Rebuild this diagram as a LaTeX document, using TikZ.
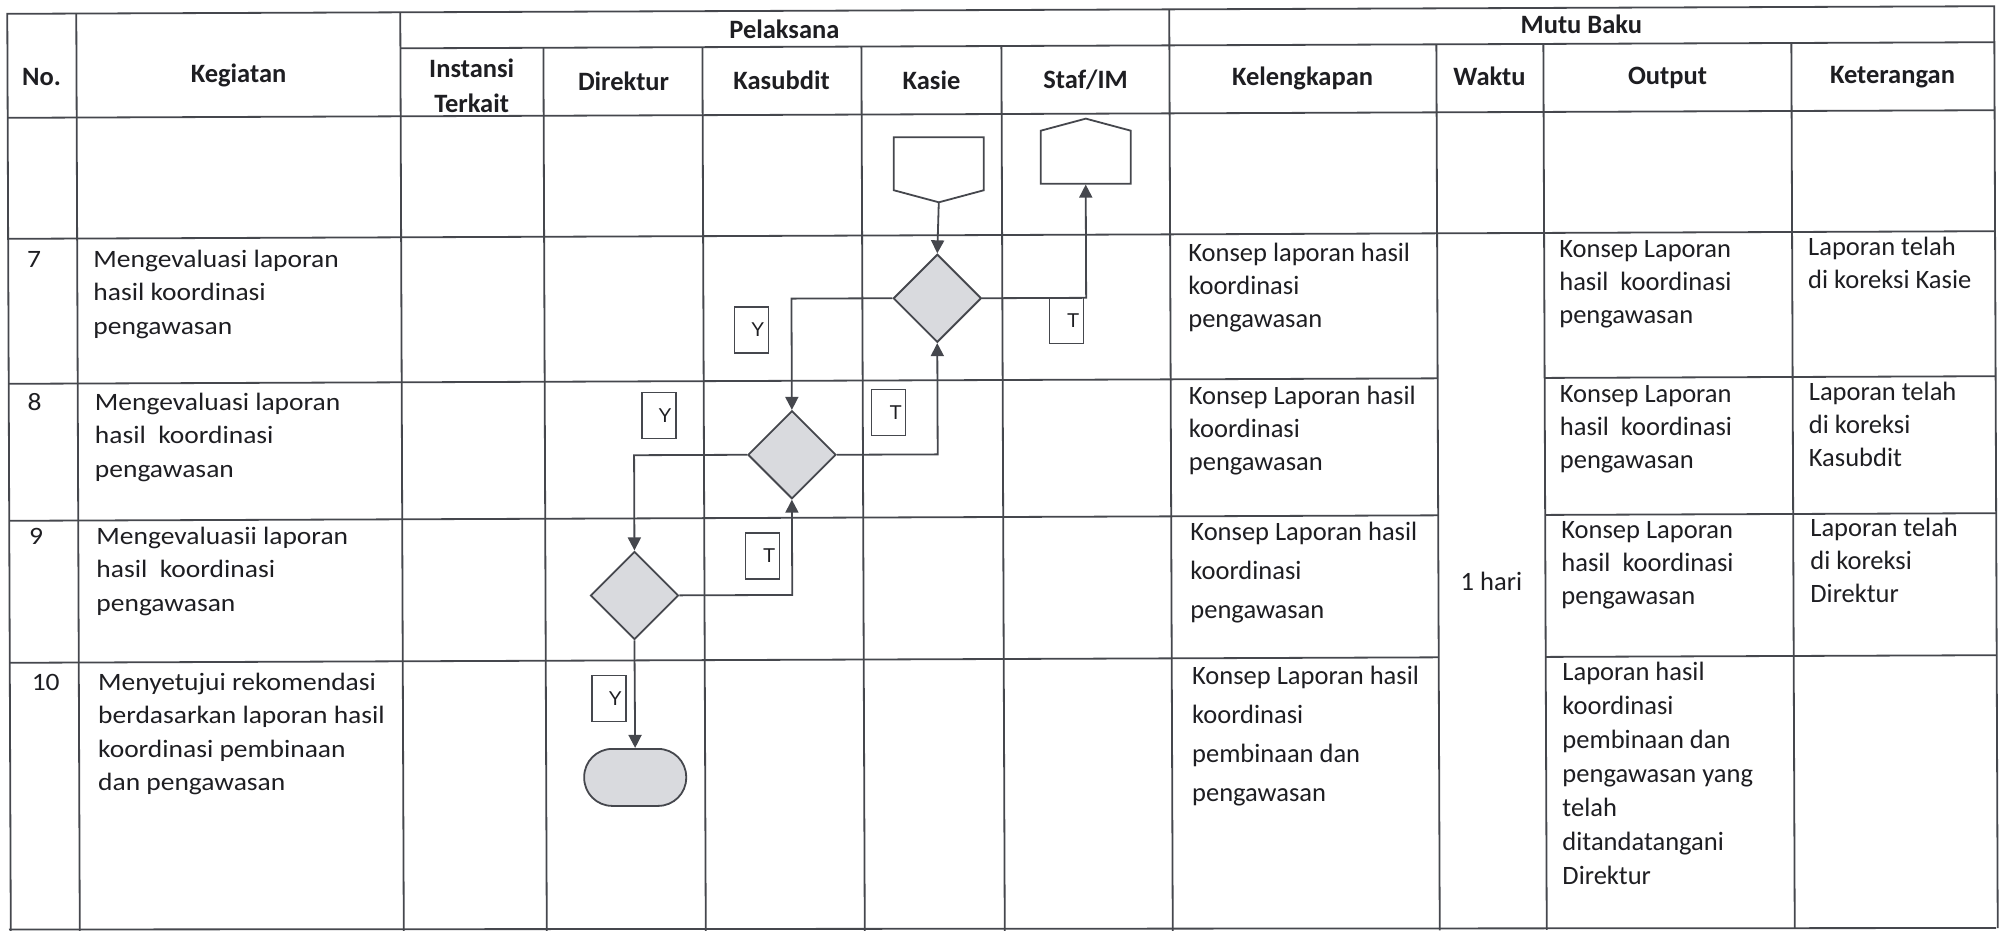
\documentclass[tikz,border=0pt]{standalone}
\usepackage{fontspec}
\setmainfont{Carlito}
\newfontfamily\widefont[FakeStretch=1.1]{Carlito}
\newfontfamily\flagfont{Liberation Sans}
\usetikzlibrary{shapes.geometric, shapes.symbols, arrows.meta, positioning}

\definecolor{gridline}{HTML}{45474D}
\definecolor{decfill}{HTML}{D9DADE}
\definecolor{ink}{HTML}{1E1E22}

\begin{document}
\begin{tikzpicture}[x=1pt, y=-1pt, line width=1.8pt, draw=gridline, text=ink,
        >={Triangle[length=13pt,width=13pt]}]
        \tikzset{
            head/.style={font=\bfseries\fontsize{26.5}{35}\selectfont, anchor=base, inner sep=0pt, align=center},
            act/.style={font=\widefont\fontsize{25}{33.5}\selectfont, anchor=base west, inner sep=0pt, align=left},
            cell/.style={font=\fontsize{26.5}{33}\selectfont, anchor=base west, inner sep=0pt, align=left},
            cellwide/.style={cell, font=\fontsize{26.5}{39}\selectfont},
            decision/.style={diamond, draw, fill=decfill, minimum width=88pt, minimum height=88pt, inner sep=0pt},
            offpage/.style={signal, draw, signal pointer angle=150, minimum width=90pt, minimum height=53pt, inner sep=0pt},
            terminal/.style={rectangle, rounded corners=28pt, draw, fill=decfill, minimum width=102pt, minimum height=57pt},
            flag/.style={draw, line width=1.4pt, font=\flagfont\fontsize{20}{20}\selectfont, text width=26pt,
                align=right, inner xsep=4pt, inner ysep=0pt, minimum height=46pt}
        }
        \useasboundingbox (0,0) rectangle (2008,931);

        % the scanned sheet sits slightly askew
        \begin{scope}[rotate around={0.22:(1002,470)}]
        % table frame
        \draw (9,932) -- (9,10) -- (1996,10) -- (1996,932);
        \draw (402,46) -- (1996,46);
        \draw (9,114) -- (1996,114);
        \draw (9,235) -- (1996,235);
        \draw (9,380) -- (1438,380) (1545,380) -- (1996,380);
        \draw (9,517) -- (1438,517) (1545,517) -- (1996,517);
        \draw (9,659) -- (1438,659) (1545,659) -- (1996,659);
        \draw (78,10) -- (78,932) (402,10) -- (402,932) (1171,10) -- (1171,932);
        \draw (545,46) -- (545,932) (704,46) -- (704,932) (863,46) -- (863,932) (1003,46) -- (1003,932);
        \draw (1438,46) -- (1438,932) (1545,46) -- (1545,932) (1793,46) -- (1793,932);

        % header (base = last line)
        \node[head] (h_no) at (43,82) {No.};
        \node[head] (h_keg) at (240,80) {Kegiatan};
        \node[head] (h_pel) at (786,38) {Pelaksana};
        \node[head] (h_mutu) at (1583,36) {Mutu Baku};
        \node[head] (h_ins) at (473,110) {Instansi\\Terkait};
        \node[head] (h_dir) at (625,89) {Direktur};
        \node[head] (h_ksb) at (783,89) {Kasubdit};
        \node[head] (h_ksi) at (933,89) {Kasie};
        \node[head] (h_staf) at (1087,89) {Staf/IM};
        \node[head] (h_kel) at (1304,87) {Kelengkapan};
        \node[head] (h_wkt) at (1491,87) {Waktu};
        \node[head] (h_out) at (1669,87) {Output};
        \node[head] (h_ket) at (1894,87) {Keterangan};

        % rows
        \node[act] (no_7) at (27,264) {7};
        \node[act] (no_8) at (27,407) {8};
        \node[act] (no_9) at (28,541) {9};
        \node[act] (no_10) at (30,687) {10};
        \node[act] (keg_7) at (93,331) {Mengevaluasi laporan\\hasil koordinasi\\pengawasan};
        \node[act] (keg_8) at (94,474) {Mengevaluasi laporan\\hasil\ \ koordinasi\\pengawasan};
        \node[act] (keg_9) at (95,608) {Mengevaluasii laporan\\hasil\ \ koordinasi\\pengawasan};
        \node[act] (keg_10) at (96,787.5) {Menyetujui rekomendasi\\berdasarkan laporan hasil\\koordinasi pembinaan\\dan pengawasan};

        \node[cell] (kel_7) at (1188,328) {Konsep laporan hasil\\koordinasi\\pengawasan};
        \node[cell] (kel_8) at (1188,471) {Konsep Laporan hasil\\koordinasi\\pengawasan};
        \node[cellwide] (kel_9) at (1189,619) {Konsep Laporan hasil\\koordinasi\\pengawasan};
        \node[cellwide] (kel_10) at (1190,802) {Konsep Laporan hasil\\koordinasi\\pembinaan dan\\pengawasan};
        \node[font=\fontsize{26.5}{33}\selectfont, inner sep=0pt] (wkt) at (1491,583) {1 hari};
        \node[cell] (out_7) at (1559,326) {Konsep Laporan\\hasil\ \ koordinasi\\pengawasan};
        \node[cell] (out_8) at (1559,471) {Konsep Laporan\\hasil\ \ koordinasi\\pengawasan};
        \node[cell] (out_9) at (1560,607) {Konsep Laporan\\hasil\ \ koordinasi\\pengawasan};
        \node[cell, font=\fontsize{26.5}{34}\selectfont] (out_10) at (1560,887) {Laporan hasil\\koordinasi\\pembinaan dan\\pengawasan yang\\telah\\ditandatangani\\Direktur};
        \node[cell] (ket_7) at (1808,292) {Laporan telah\\di koreksi Kasie};
        \node[cell] (ket_8) at (1808,470) {Laporan telah\\di koreksi\\Kasubdit};
        \node[cell] (ket_9) at (1809,606) {Laporan telah\\di koreksi\\Direktur};

        % flow
        \node[offpage, signal to=south] (conn_in) at (940,163.5) {};
        \node[offpage, signal to=north] (conn_out) at (1087,157.5) {};
        \node[decision] (d_1) at (938,298) {};
        \node[decision] (d_2) at (792,454) {};
        \node[decision] (d_3) at (634,594) {};
        \node[terminal] (stop) at (634,776) {};

        \draw[->] (conn_in.south) -- (d_1.north);
        \draw[->] (d_1.east) -| (conn_out.south);
        \draw[->] (d_1.west) -| (d_2.north);
        \draw[->] (d_2.east) -| (d_1.south);
        \draw[->] (d_2.west) -| (d_3.north);
        \draw[->] (d_3.east) -| (d_2.south);
        \draw[->] (d_3.south) -- (stop.north);

        \node[flag] (y_1) at (752,329) {Y};
        \node[flag] (t_1) at (1067,321) {T};
        \node[flag] (y_2) at (659,414) {Y};
        \node[flag] (t_2) at (889,412) {T};
        \node[flag] (t_3) at (762,555) {T};
        \node[flag] (y_3) at (608,697) {Y};
        \end{scope}
        % bottom edge lies almost level on the scan
        \draw (9,929.5) -- (1996,928);
    \end{tikzpicture}
\end{document}
